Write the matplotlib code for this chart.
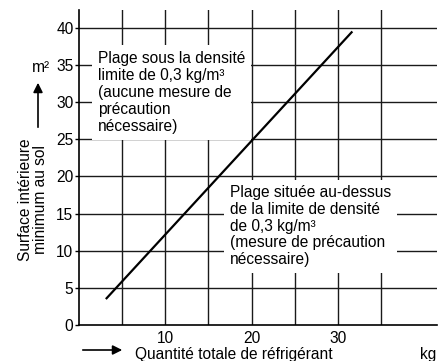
import matplotlib.pyplot as plt

plt.rcParams['font.family'] = ['Liberation Sans', 'DejaVu Sans']

# Limit line for 0.3 kg/m3 density
quantity = [3.2, 31.6]     # kg
area = [3.6, 39.4]         # m2

x_ticks = [10, 20, 30]
y_ticks = [0, 5, 10, 15, 20, 25, 30, 35, 40]
x_grid = [5, 10, 15, 20, 25, 30, 35]
y_grid = [5, 10, 15, 20, 25, 30, 35, 40]

label_below = "Plage sous la densité\nlimite de 0,3 kg/m³\n(aucune mesure de\nprécaution\nnécessaire)"
label_above = "Plage située au-dessus\nde la limite de densité\nde 0,3 kg/m³\n(mesure de précaution\nnécessaire)"

FS = 11.2
W, H = 438, 361
fig = plt.figure(figsize=(W / 100, H / 100), dpi=100)
ax = fig.add_axes([79 / W, 36 / H, (437 - 79) / W, (325 - 10) / H])

ax.set_xlim(0, 41.5)
ax.set_ylim(0, 42.4)

for gx in x_grid:
    ax.axvline(gx, color='#1a1a1a', lw=1.0, zorder=1)
for gy in y_grid:
    ax.axhline(gy, color='#1a1a1a', lw=1.0, zorder=1)

ax.plot(quantity, area, color='black', lw=1.6, zorder=3)

for s in ['top', 'right']:
    ax.spines[s].set_visible(False)
for s in ['left', 'bottom']:
    ax.spines[s].set_linewidth(1.2)
    ax.spines[s].set_zorder(4)

ax.set_xticks(x_ticks)
ax.set_yticks(y_ticks)
ax.tick_params(axis='x', length=0, pad=4, labelsize=FS)
ax.tick_params(axis='y', length=3, width=1, pad=1, labelsize=FS)

box = dict(facecolor='white', edgecolor='none', pad=4)
ax.text(2.2, 31.3, label_below, ha='left', va='center', fontsize=FS,
        linespacing=1.17, bbox=box, zorder=2)
ax.text(17.5, 13.3, label_above, ha='left', va='center', fontsize=FS,
        linespacing=1.14, bbox=box, zorder=2)

# Axis titles with direction arrows
fig.text(33 / W, 1 - 200 / H, "Surface intérieure\nminimum au sol", rotation=90,
         ha='center', va='center', fontsize=FS, linespacing=1.0)
fig.text(41 / W, 1 - 67 / H, "m²", ha='center', va='center', fontsize=FS)
ax.annotate('', xy=(38 / W, 1 - 80 / H), xytext=(38 / W, 1 - 130 / H),
            xycoords='figure fraction', textcoords='figure fraction',
            arrowprops=dict(arrowstyle='-|>', color='black', lw=1.2, mutation_scale=14))

fig.text(135 / W, 1 - 359 / H, "Quantité totale de réfrigérant", ha='left', va='baseline', fontsize=FS)
fig.text(428 / W, 1 - 359 / H, "kg", ha='center', va='baseline', fontsize=FS)
ax.annotate('', xy=(125 / W, 1 - 350 / H), xytext=(80 / W, 1 - 350 / H),
            xycoords='figure fraction', textcoords='figure fraction',
            arrowprops=dict(arrowstyle='-|>', color='black', lw=1.2, mutation_scale=14))

fig.savefig('out.png', dpi=100)
